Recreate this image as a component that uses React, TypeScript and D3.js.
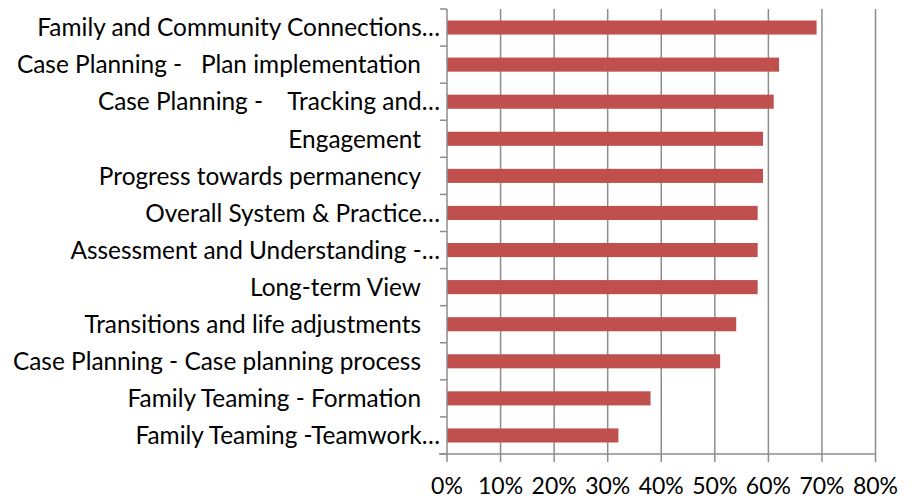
import React from "react";
import * as d3 from "d3";

const categories = [
  "Family and Community Connections…",
  "Case Planning -   Plan implementation",
  "Case Planning -    Tracking and…",
  "Engagement",
  "Progress towards permanency",
  "Overall System & Practice…",
  "Assessment and Understanding -…",
  "Long-term View",
  "Transitions and life adjustments",
  "Case Planning - Case planning process",
  "Family Teaming - Formation",
  "Family Teaming -Teamwork…",
];
const values = [0.69, 0.62, 0.61, 0.59, 0.59, 0.58, 0.58, 0.58, 0.54, 0.51, 0.38, 0.32];
const ticks = [0, 0.1, 0.2, 0.3, 0.4, 0.5, 0.6, 0.7, 0.8];

const W = 913;
const H = 499;
const left = 447;
const right = 875.5;
const top = 9;
const bottom = 454;
const font = "Lato, 'Open Sans', sans-serif";

export default function App() {
  const x = d3.scaleLinear().domain([0, 0.8]).range([left, right]);
  const y = d3.scaleBand<string>().domain(categories).range([top, bottom]).paddingInner(0.62).paddingOuter(0.31);
  const grid = "#8c8c8c";
  return (
    <svg width={W} height={H} style={{ position: "absolute", left: 0, top: 0 }}>
      <rect width={W} height={H} fill="#fff" />
      {ticks.slice(1).map((t) => (
        <line key={t} x1={x(t)} x2={x(t)} y1={top} y2={bottom + 8} stroke={grid} strokeWidth={1.5} />
      ))}
      {values.map((v, i) => (
        <rect key={i} x={left} y={y(categories[i])} width={x(v) - left} height={y.bandwidth()} fill="#c0504d" />
      ))}
      <line x1={left} x2={left} y1={top} y2={bottom} stroke={grid} strokeWidth={1.5} />
      <line x1={left - 8} x2={right} y1={bottom} y2={bottom} stroke={grid} strokeWidth={1.5} />
      <line x1={left} x2={left} y1={bottom} y2={bottom + 8} stroke={grid} strokeWidth={1.5} />
      {d3.range(categories.length + 1).map((i) => {
        const yy = top + (i * (bottom - top)) / categories.length;
        return <line key={i} x1={left - 7} x2={left} y1={yy} y2={yy} stroke={grid} strokeWidth={1.5} />;
      })}
      {categories.map((c, i) => (
        <text
          key={c}
          x={c.endsWith("…") ? 440 : 421}
          y={(y(c) ?? 0) + y.bandwidth() / 2}
          dy="0.36em"
          textAnchor="end"
          fontFamily={font}
          fontSize={24.4}
          fill="#000"
          style={{ whiteSpace: "pre" }}
        >
          {c}
        </text>
      ))}
      {ticks.map((t) => (
        <text key={t} x={x(t)} y={494} textAnchor="middle" fontFamily={font} fontSize={23} fill="#000">
          {d3.format(".0%")(t)}
        </text>
      ))}
    </svg>
  );
}
